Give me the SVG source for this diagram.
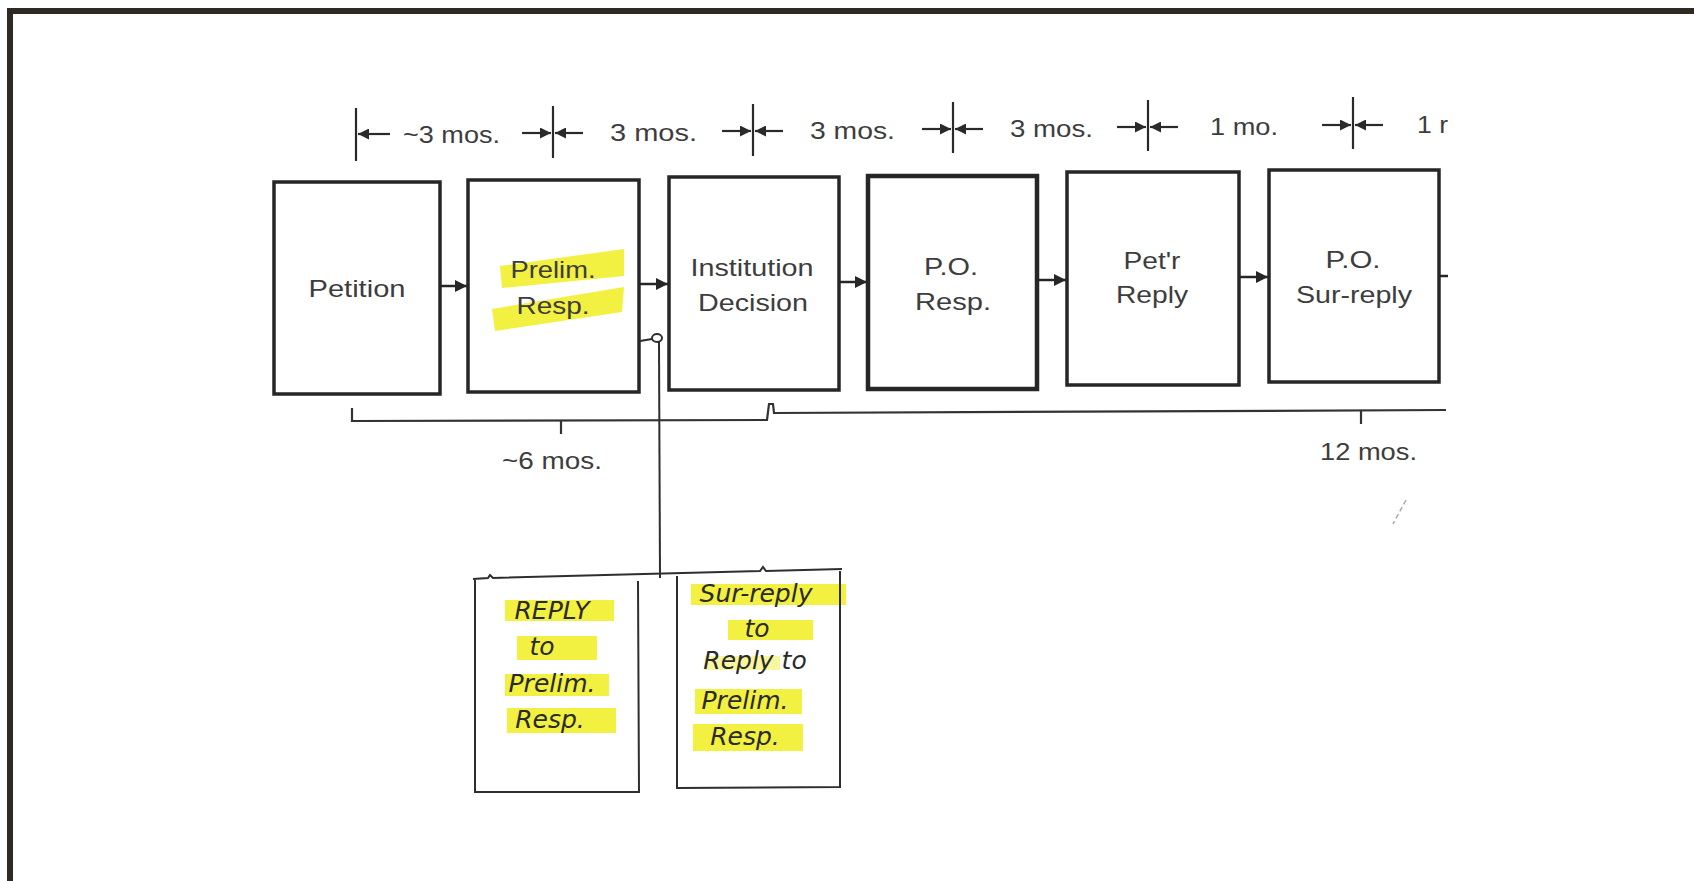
<svg xmlns="http://www.w3.org/2000/svg" width="1694" height="881" viewBox="0 0 1694 881">
<defs>
<marker id="ah" viewBox="0 0 10 10" refX="10" refY="5" markerWidth="13" markerHeight="12" markerUnits="userSpaceOnUse" orient="auto">
<path d="M0,0 L10,5 L0,10 z" fill="#262626"/>
</marker>
<marker id="dh" viewBox="0 0 10 10" refX="10" refY="5" markerWidth="12" markerHeight="11" markerUnits="userSpaceOnUse" orient="auto">
<path d="M0,0 L10,5 L0,10 z" fill="#2a2a2a"/>
</marker>
<style>
.box{fill:#fff;stroke:#262626;stroke-width:3.5}
.thick{stroke-width:4.5}
.t{font-family:"Liberation Sans",Arial,sans-serif;font-size:24px;fill:#3d3d3d;text-anchor:middle}
.d{font-family:"Liberation Sans",Arial,sans-serif;font-size:24px;fill:#3d3d3d}
.con{stroke:#262626;stroke-width:2.5;fill:none}
.dim{stroke:#2a2a2a;stroke-width:2.2;fill:none}
.tick{stroke:#2a2a2a;stroke-width:2.2}
.hl{fill:#f2f040}
.hw{font-family:"DejaVu Sans",sans-serif;font-style:italic;font-size:25px;fill:#2a2a2a;text-anchor:middle}
.hbox{fill:none;stroke:#2e2e2e;stroke-width:2}
.brk{stroke:#333;stroke-width:2.2;fill:none}
</style>
</defs>
<rect width="1694" height="881" fill="#fff"/>
<!-- frame -->
<path d="M10,881 L10,11 L1694,11" fill="none" stroke="#2e2a22" stroke-width="6"/>

<!-- dimension row -->
<g id="timeline-dims">
<line class="tick" x1="356" y1="108" x2="356" y2="161"/>
<line class="dim" x1="390" y1="134" x2="358" y2="134" marker-end="url(#dh)"/>
<text class="d" x="403" y="143" textLength="97" lengthAdjust="spacingAndGlyphs">~3 mos.</text>

<line class="tick" x1="553" y1="106" x2="553" y2="158"/>
<line class="dim" x1="522" y1="133" x2="551" y2="133" marker-end="url(#dh)"/>
<line class="dim" x1="583" y1="133" x2="555" y2="133" marker-end="url(#dh)"/>
<text class="d" x="610" y="141" textLength="87" lengthAdjust="spacingAndGlyphs">3 mos.</text>

<line class="tick" x1="753" y1="104" x2="753" y2="156"/>
<line class="dim" x1="722" y1="131" x2="751" y2="131" marker-end="url(#dh)"/>
<line class="dim" x1="783" y1="131" x2="755" y2="131" marker-end="url(#dh)"/>
<text class="d" x="810" y="139" textLength="85" lengthAdjust="spacingAndGlyphs">3 mos.</text>

<line class="tick" x1="953" y1="102" x2="953" y2="153"/>
<line class="dim" x1="922" y1="129" x2="951" y2="129" marker-end="url(#dh)"/>
<line class="dim" x1="983" y1="129" x2="955" y2="129" marker-end="url(#dh)"/>
<text class="d" x="1010" y="137" textLength="83" lengthAdjust="spacingAndGlyphs">3 mos.</text>

<line class="tick" x1="1148" y1="100" x2="1148" y2="151"/>
<line class="dim" x1="1117" y1="127" x2="1146" y2="127" marker-end="url(#dh)"/>
<line class="dim" x1="1178" y1="127" x2="1150" y2="127" marker-end="url(#dh)"/>
<text class="d" x="1210" y="135" textLength="68" lengthAdjust="spacingAndGlyphs">1 mo.</text>

<line class="tick" x1="1353" y1="97" x2="1353" y2="149"/>
<line class="dim" x1="1322" y1="125" x2="1351" y2="125" marker-end="url(#dh)"/>
<line class="dim" x1="1383" y1="125" x2="1355" y2="125" marker-end="url(#dh)"/>
<text class="d" x="1417" y="133" textLength="31" lengthAdjust="spacingAndGlyphs">1 r</text>
</g>

<!-- nodes -->
<g id="node-petition">
<rect class="box" x="274" y="182" width="166" height="212"/>
<text class="t" x="357" y="297" textLength="97" lengthAdjust="spacingAndGlyphs">Petition</text>
</g>
<g id="node-prelim-resp">
<rect class="box" x="468" y="180" width="171" height="212"/>
<polygon class="hl" points="500,266 624,249 624,276 502,288"/>
<polygon class="hl" points="492,309 624,287 622,312 495,331"/>
<text class="t" x="553" y="278" textLength="85" lengthAdjust="spacingAndGlyphs">Prelim.</text>
<text class="t" x="553" y="314" textLength="73" lengthAdjust="spacingAndGlyphs">Resp.</text>
</g>
<g id="node-institution">
<rect class="box" x="669" y="177" width="170" height="213"/>
<text class="t" x="752" y="276" textLength="123" lengthAdjust="spacingAndGlyphs">Institution</text>
<text class="t" x="753" y="311" textLength="110" lengthAdjust="spacingAndGlyphs">Decision</text>
</g>
<g id="node-po-resp">
<rect class="box thick" x="868" y="176" width="169" height="213"/>
<text class="t" x="951" y="275" textLength="54" lengthAdjust="spacingAndGlyphs">P.O.</text>
<text class="t" x="953" y="310" textLength="76" lengthAdjust="spacingAndGlyphs">Resp.</text>
</g>
<g id="node-petr-reply">
<rect class="box" x="1067" y="172" width="172" height="213"/>
<text class="t" x="1152" y="269" textLength="57" lengthAdjust="spacingAndGlyphs">Pet'r</text>
<text class="t" x="1152" y="303" textLength="72" lengthAdjust="spacingAndGlyphs">Reply</text>
</g>
<g id="node-po-surreply">
<rect class="box" x="1269" y="170" width="170" height="212"/>
<text class="t" x="1353" y="268" textLength="55" lengthAdjust="spacingAndGlyphs">P.O.</text>
<text class="t" x="1354" y="303" textLength="116" lengthAdjust="spacingAndGlyphs">Sur-reply</text>
</g>

<!-- handwritten nodes -->
<g id="node-reply-to-prelim">
<rect class="hl" x="505" y="600" width="109" height="21"/>
<rect class="hl" x="517" y="636" width="80" height="24"/>
<rect class="hl" x="505" y="674" width="104" height="22"/>
<rect class="hl" x="507" y="708" width="109" height="25"/>
<path class="hbox" d="M475,580 L475,792 L639,792 L638,581"/>
<text class="hw" x="552" y="619">REPLY</text>
<text class="hw" x="542" y="655">to</text>
<text class="hw" x="552" y="692">Prelim.</text>
<text class="hw" x="550" y="728">Resp.</text>
</g>
<g id="node-surreply-to-reply">
<rect class="hl" x="691" y="584" width="155" height="21"/>
<rect class="hl" x="728" y="620" width="85" height="20"/>
<rect class="hl" x="705" y="656" width="75" height="14" opacity="0.5"/>
<rect class="hl" x="695" y="689" width="107" height="25"/>
<rect class="hl" x="693" y="724" width="110" height="27"/>
<path class="hbox" d="M677,576 L677,788 L840,787 L840,571"/>
<text class="hw" x="756" y="602">Sur-reply</text>
<text class="hw" x="757" y="637">to</text>
<text class="hw" x="755" y="669">Reply to</text>
<text class="hw" x="745" y="709">Prelim.</text>
<text class="hw" x="745" y="745">Resp.</text>
</g>

<!-- connectors -->
<g id="connectors">
<line class="con" x1="441" y1="286" x2="467" y2="286" marker-end="url(#ah)"/>
<line class="con" x1="640" y1="284" x2="668" y2="284" marker-end="url(#ah)"/>
<line class="con" x1="839" y1="282" x2="867" y2="282" marker-end="url(#ah)"/>
<line class="con" x1="1038" y1="280" x2="1066" y2="280" marker-end="url(#ah)"/>
<line class="con" x1="1240" y1="277" x2="1268" y2="277" marker-end="url(#ah)"/>
<line class="con" x1="1440" y1="276" x2="1448" y2="276"/>
<!-- hand-drawn branch -->
<path class="hbox" d="M640,341 L652,339"/>
<ellipse cx="657" cy="338" rx="5" ry="4" fill="none" stroke="#2e2e2e" stroke-width="2"/>
<line class="hbox" x1="659" y1="342" x2="660" y2="578"/>
<path class="hbox" d="M473,579 L488,578 L490,575 L493,578 L760,571 L763,567 L766,571 L842,569"/>
<!-- brackets -->
<path class="brk" d="M352,408 L352,421 L767,420 L769,404 L773,404 L774,413 L1446,410"/>
<line class="brk" x1="561" y1="421" x2="561" y2="434"/>
<line class="brk" x1="1361" y1="411" x2="1361" y2="424"/>
<!-- stray mark -->
<line x1="1406" y1="500" x2="1393" y2="524" stroke="#aaa" stroke-width="1.5" stroke-dasharray="5,3"/>
</g>
<text class="d" x="502" y="469" textLength="100" lengthAdjust="spacingAndGlyphs">~6 mos.</text>
<text class="d" x="1320" y="460" textLength="97" lengthAdjust="spacingAndGlyphs">12 mos.</text>
</svg>
